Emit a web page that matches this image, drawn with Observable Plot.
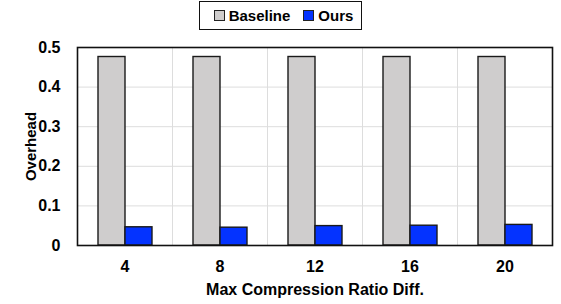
<!DOCTYPE html>
<html>
<head>
<meta charset="utf-8">
<script src="https://cdn.jsdelivr.net/npm/d3@7"></script>
<script src="https://cdn.jsdelivr.net/npm/@observablehq/plot@0.6"></script>
<style>
  html, body { margin: 0; padding: 0; background: #fff; }
  body { width: 561px; height: 304px; overflow: hidden; font-family: "Liberation Sans", Arial, sans-serif; }
  #legend-wrap { display: flex; justify-content: center; padding-top: 1px; height: 32px; box-sizing: border-box; }
  #legend { display: flex; align-items: center; border: 1.5px solid #111; height: 29px; box-sizing: border-box;
            padding: 0 8px 0 14px; font-weight: bold; font-size: 15px; color: #000; margin-left: 0px; }
  .sw { width: 9px; height: 9px; border: 1px solid #222; margin-right: 4px; }
  .item { display: flex; align-items: center; }
  .item + .item { margin-left: 13px; }
  #chart svg { display: block; }
</style>
</head>
<body>
<div id="legend-wrap"><div id="legend"></div></div>
<div id="chart"></div>
<script>
const categories = [4, 8, 12, 16, 20];
const series = ["Baseline", "Ours"];
const baselineValues = [0.476, 0.476, 0.476, 0.476, 0.476];
const oursValues = [0.046, 0.045, 0.049, 0.050, 0.052];
const yTicks = [0, 0.1, 0.2, 0.3, 0.4, 0.5];
const seriesColors = ["#cfcdcd", "#0433ff"];
const xTitle = "Max Compression Ratio Diff.";
const yTitle = "Overhead";

const data = categories.flatMap((c, i) => [
  {cat: c, series: series[0], value: baselineValues[i]},
  {cat: c, series: series[1], value: oursValues[i]}
]);

// legend
const legend = document.getElementById("legend");
series.forEach((s, i) => {
  const item = document.createElement("div");
  item.className = "item";
  const sw = document.createElement("div");
  sw.className = "sw";
  sw.style.background = seriesColors[i];
  const t = document.createElement("span");
  t.textContent = s;
  item.appendChild(sw);
  item.appendChild(t);
  legend.appendChild(item);
});

const chart = Plot.plot({
  width: 561,
  height: 272,
  marginLeft: 75,
  marginRight: 8,
  marginTop: 15,
  marginBottom: 59,
  style: {fontFamily: "Liberation Sans, Arial, sans-serif", fontWeight: "bold", color: "#000", background: "#fff"},
  fx: {domain: categories, padding: 0, axis: null},
  x: {domain: series, paddingInner: 0, paddingOuter: 0.74, axis: null},
  y: {domain: [0, 0.5], axis: null},
  color: {domain: series, range: seriesColors},
  marks: [
    Plot.frame({stroke: "#dddddd", strokeWidth: 1}),
    Plot.gridY(yTicks.slice(1, -1), {stroke: "#dddddd", strokeOpacity: 1, strokeWidth: 1}),
    Plot.barY(data, {fx: "cat", x: "series", y: "value", fill: "series", stroke: "#1a1a1a", strokeWidth: 1.4, inset: 0}),
    Plot.frame({facet: "super", stroke: "#111", strokeWidth: 1.6}),
    Plot.axisY({ticks: yTicks, tickSize: 0, tickPadding: 17, tickFormat: d3.format("~g"), fontSize: 16, label: null}),
    Plot.axisY({ticks: [], label: yTitle, labelAnchor: "center", labelOffset: 52, labelArrow: "none", fontSize: 15}),
    Plot.axisFx({anchor: "bottom", tickSize: 0, tickPadding: 15, fontSize: 16, label: null}),
    Plot.axisFx({anchor: "bottom", ticks: [], label: xTitle, labelAnchor: "center", labelOffset: 49, labelArrow: "none", fontSize: 16})
  ]
});
document.getElementById("chart").appendChild(chart);
</script>
</body>
</html>
